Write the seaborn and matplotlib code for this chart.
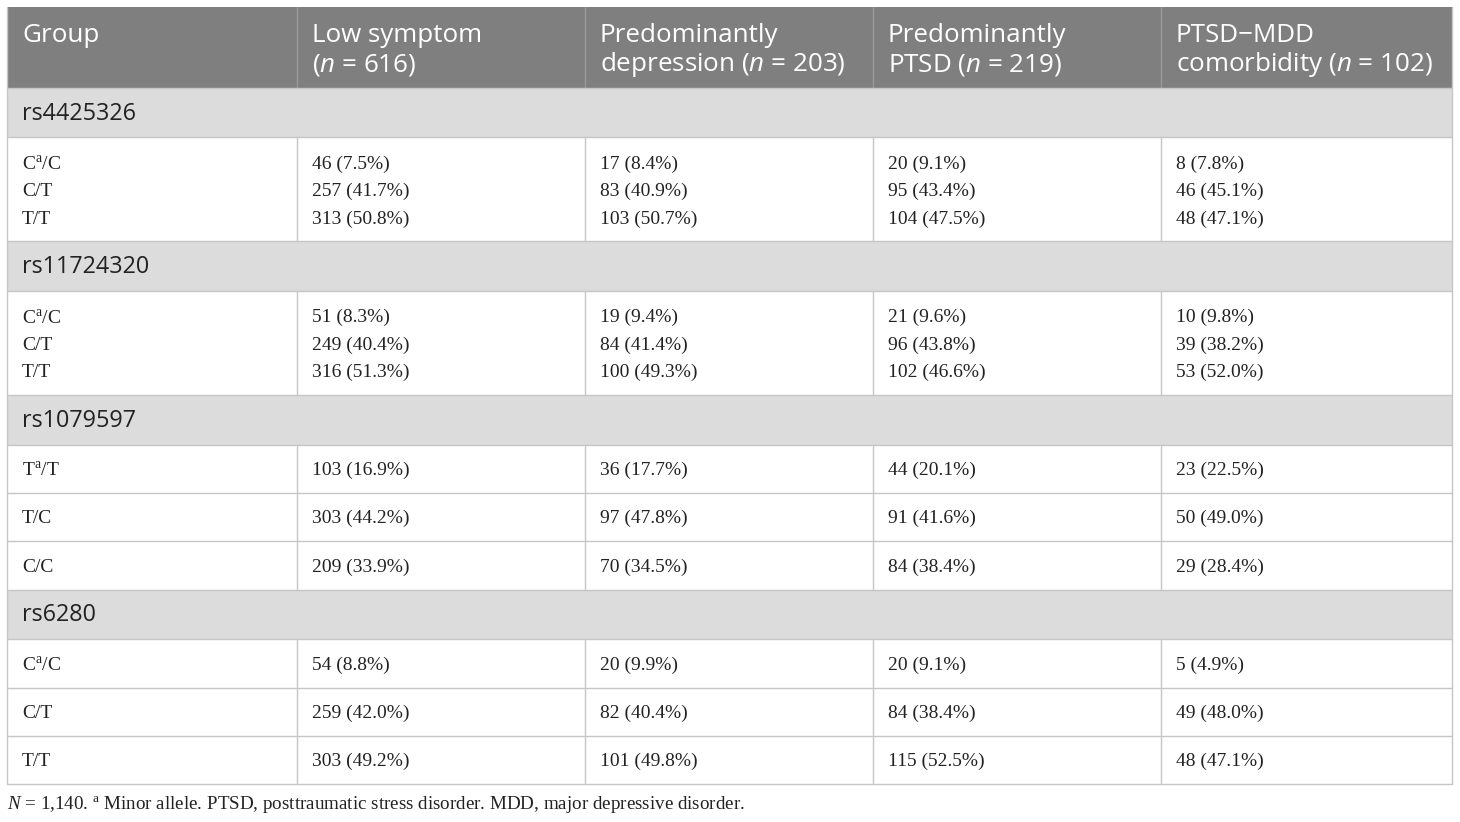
import numpy as np
import matplotlib.pyplot as plt
import seaborn as sns

# =========================
# data
# =========================
groups = ["Low symptom", "Predominantly depression", "Predominantly PTSD", "PTSD\u2212MDD comorbidity"]
group_n = [616, 203, 219, 102]
snps = ["rs4425326", "rs11724320", "rs1079597", "rs6280"]
genotypes = [
    ["C$^{\\mathrm{a}}$/C", "C/T", "T/T"],
    ["C$^{\\mathrm{a}}$/C", "C/T", "T/T"],
    ["T$^{\\mathrm{a}}$/T", "T/C", "C/C"],
    ["C$^{\\mathrm{a}}$/C", "C/T", "T/T"],
]

low_counts = [46, 257, 313, 51, 249, 316, 103, 303, 209, 54, 259, 303]
low_pct = [7.5, 41.7, 50.8, 8.3, 40.4, 51.3, 16.9, 44.2, 33.9, 8.8, 42.0, 49.2]
dep_counts = [17, 83, 103, 19, 84, 100, 36, 97, 70, 20, 82, 101]
dep_pct = [8.4, 40.9, 50.7, 9.4, 41.4, 49.3, 17.7, 47.8, 34.5, 9.9, 40.4, 49.8]
ptsd_counts = [20, 95, 104, 21, 96, 102, 44, 91, 84, 20, 84, 115]
ptsd_pct = [9.1, 43.4, 47.5, 9.6, 43.8, 46.6, 20.1, 41.6, 38.4, 9.1, 38.4, 52.5]
com_counts = [8, 46, 48, 10, 39, 53, 23, 50, 29, 5, 49, 48]
com_pct = [7.8, 45.1, 47.1, 9.8, 38.2, 52.0, 22.5, 49.0, 28.4, 4.9, 48.0, 47.1]

all_counts = [low_counts, dep_counts, ptsd_counts, com_counts]
all_pct = [low_pct, dep_pct, ptsd_pct, com_pct]

# header lines (break as in the original)
header_lines = [
    ["Group", ""],
    ["Low symptom", "($\\mathit{n}$ = %d)" % group_n[0]],
    ["Predominantly", "depression ($\\mathit{n}$ = %d)" % group_n[1]],
    ["Predominantly", "PTSD ($\\mathit{n}$ = %d)" % group_n[2]],
    ["PTSD\u2212MDD", "comorbidity ($\\mathit{n}$ = %d)" % group_n[3]],
]

# =========================
# style
# =========================
sns.set_theme(style="white")
plt.rcParams["font.family"] = ["Open Sans", "DejaVu Sans"]
plt.rcParams["mathtext.fontset"] = "custom"
plt.rcParams["mathtext.rm"] = "Liberation Serif"
plt.rcParams["mathtext.it"] = "Open Sans:italic"
plt.rcParams["mathtext.sf"] = "Liberation Serif:italic"

HEAD_BG = "#7f7f7f"
SEC_BG = "#dcdcdc"
LINE = "#c6c6c6"
TXT = "#222222"
SERIF = ["Liberation Serif", "DejaVu Serif"]

fig = plt.figure(figsize=(14.6, 8.22), dpi=100)
ax = fig.add_axes([0, 0, 1, 1])
ax.set_xlim(0, 1460)
ax.set_ylim(822, 0)
ax.axis("off")

col_x = [7, 297, 585, 873, 1161, 1452]
pad = 15
x0, x1 = col_x[0], col_x[-1]

# header
top, head_h = 7, 81
ax.add_patch(plt.Rectangle((x0, top), x1 - x0, head_h, color=HEAD_BG, lw=0))
for c in range(1, 5):
    ax.plot([col_x[c], col_x[c]], [top, top + head_h], color="#9a9a9a", lw=1)
for c, lines in enumerate(header_lines):
    for k, t in enumerate(lines):
        ax.text(col_x[c] + pad, top + 29 + 28.5 * k, t, color="white",
                fontsize=18.7, va="center", ha="left")

y = top + head_h
sec_h = 49.5
for s, snp in enumerate(snps):
    # section row
    ax.add_patch(plt.Rectangle((x0, y), x1 - x0, sec_h, color=SEC_BG, lw=0))
    ax.plot([x0, x1], [y, y], color=LINE, lw=1)
    ax.text(col_x[0] + pad, y + sec_h / 2 + 1, snp, color=TXT, fontsize=16.8,
            va="center", ha="left")
    y += sec_h
    ax.plot([x0, x1], [y, y], color=LINE, lw=1)

    if s < 2:
        # genotypes stacked in one cell
        block_h = 104
        line_y = [y + 26.5, y + 54, y + 81.5]
        for c in range(1, 5):
            ax.plot([col_x[c], col_x[c]], [y, y + block_h], color=LINE, lw=1)
        for g in range(3):
            ax.text(col_x[0] + pad, line_y[g], genotypes[s][g], color=TXT,
                    fontsize=14, family=SERIF, va="center", ha="left")
            for c in range(4):
                i = s * 3 + g
                ax.text(col_x[c + 1] + pad, line_y[g],
                        "%d (%.1f%%)" % (all_counts[c][i], all_pct[c][i]),
                        color=TXT, fontsize=14, family=SERIF,
                        va="center", ha="left")
        y += block_h
    else:
        row_h = 48.4
        for g in range(3):
            if g > 0:
                ax.plot([x0, x1], [y, y], color=LINE, lw=1)
            for c in range(1, 5):
                ax.plot([col_x[c], col_x[c]], [y, y + row_h], color=LINE, lw=1)
            ax.text(col_x[0] + pad, y + row_h / 2 + 1.5, genotypes[s][g], color=TXT,
                    fontsize=14, family=SERIF, va="center", ha="left")
            for c in range(4):
                i = s * 3 + g
                ax.text(col_x[c + 1] + pad, y + row_h / 2 + 1.5,
                        "%d (%.1f%%)" % (all_counts[c][i], all_pct[c][i]),
                        color=TXT, fontsize=14, family=SERIF,
                        va="center", ha="left")
            y += row_h

# outer border
ax.plot([x0, x1], [y, y], color=LINE, lw=1)
ax.plot([x0, x0], [top, y], color=LINE, lw=1)
ax.plot([x1, x1], [top, y], color=LINE, lw=1)

# footnote
ax.text(x0, y + 20.5, "$\\mathsf{N}$ = 1,140. ${}^{\\mathrm{a}}$ Minor allele. PTSD, posttraumatic stress disorder. "
        "MDD, major depressive disorder.", color=TXT, fontsize=13.7,
        family=SERIF, va="center", ha="left")

fig.savefig("out.png", dpi=100)
